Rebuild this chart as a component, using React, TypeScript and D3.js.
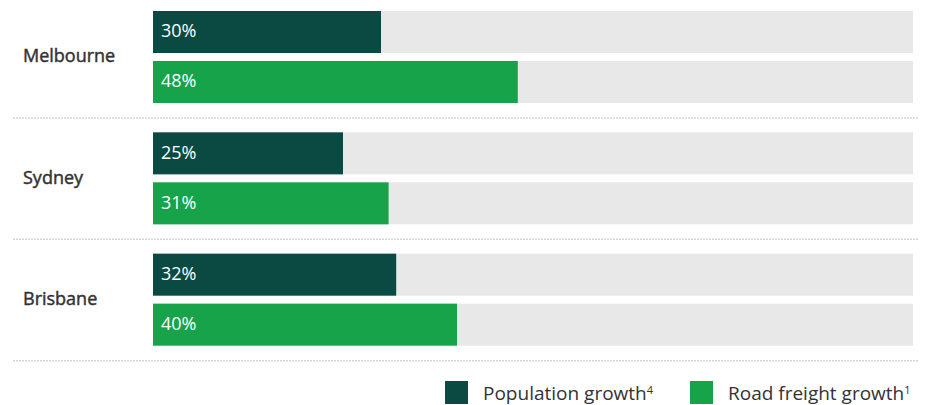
import React from "react";
import * as d3 from "d3";

const cities = ["Melbourne", "Sydney", "Brisbane"];
const seriesNames = ["Population growth", "Road freight growth"];
const seriesSup = ["4", "1"];
const populationGrowth = [30, 25, 32];
const roadFreightGrowth = [48, 31, 40];
const colors = ["#0b4a42", "#16a34a"];

const W = 925;
const H = 405;

export default function App() {
  const x = d3.scaleLinear().domain([0, 100]).range([153, 913]);
  const outer = d3.scaleBand<string>().domain(cities).range([0, 364]).paddingInner(0);
  const inner = d3
    .scaleBand<string>()
    .domain(seriesNames)
    .range([11, 103])
    .paddingInner(0.16);
  const values = [populationGrowth, roadFreightGrowth];
  const font = "'Open Sans', sans-serif";

  return (
    <svg
      width={W}
      height={H}
      style={{ position: "absolute", left: 0, top: 0, fontFamily: font }}
    >
      {cities.map((c, ci) => {
        const y0 = outer(c)!;
        return (
          <g key={c} transform={`translate(0,${y0})`}>
            <text
              x={23}
              y={inner(seriesNames[0])! + inner.bandwidth() + 3}
              dy="0.35em"
              fontSize={18}
              fill="#333"
              stroke="#333"
              strokeWidth={0.45}
            >
              {c}
            </text>
            {seriesNames.map((s, si) => {
              const by = inner(s)!;
              const v = values[si][ci];
              return (
                <g key={s}>
                  <rect x={x(0)} y={by} width={x(100) - x(0)} height={inner.bandwidth()} fill="#e8e8e8" />
                  <rect x={x(0)} y={by} width={x(v) - x(0)} height={inner.bandwidth()} fill={colors[si]} />
                  <text
                    x={x(0) + 8}
                    y={by + inner.bandwidth() / 2 - 1}
                    dy="0.35em"
                    fontSize={18}
                    fill="#fff"
                  >
                    {`${v}%`}
                  </text>
                </g>
              );
            })}
            <line
              x1={13}
              x2={919}
              y1={118}
              y2={118}
              stroke="#d6d6d6"
              strokeWidth={1.5}
              strokeDasharray="2 1"
            />
          </g>
        );
      })}
      {seriesNames.map((s, si) => {
        const lx = [445, 690][si];
        return (
          <g key={s} transform={`translate(${lx},381)`}>
            <rect width={23} height={23} fill={colors[si]} />
            <text x={38} y={12} dy="0.35em" fontSize={19} fill="#333">
              {s}
              <tspan fontSize={11} dy={-6}>{seriesSup[si]}</tspan>
            </text>
          </g>
        );
      })}
    </svg>
  );
}
